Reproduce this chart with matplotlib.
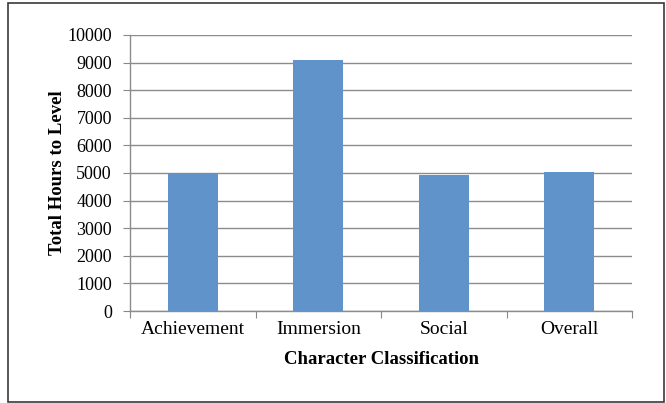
import matplotlib
matplotlib.use("Agg")
import matplotlib.pyplot as plt
from matplotlib.patches import Rectangle
import numpy as np

categories = ["Achievement", "Immersion", "Social", "Overall"]
hours = [4990, 9110, 4930, 5050]
yticks = [0, 1000, 2000, 3000, 4000, 5000, 6000, 7000, 8000, 9000, 10000]

plt.rcParams['font.family'] = ['Liberation Serif', 'DejaVu Serif']

W, H = 666, 403
fig = plt.figure(figsize=(W / 100, H / 100), dpi=100)

# outer frame
fig.patches.append(Rectangle((8 / W, 1 - 402 / H), (664 - 8) / W, (402 - 3) / H,
                             transform=fig.transFigure, fill=False,
                             edgecolor='#3a3a3a', linewidth=1.2))

ax = fig.add_axes([130 / W, 1 - 311 / H, (632 - 130) / W, (311 - 35) / H])
x = np.arange(len(categories))
ax.bar(x, hours, width=0.4, color='#5f93c9', zorder=3)

ax.set_xlim(-0.5, len(categories) - 0.5)
ax.set_ylim(0, 10000)
ax.set_yticks(yticks)
ax.set_yticklabels([str(v) for v in yticks], fontsize=13)
ax.set_xticks(np.arange(-0.5, len(categories), 1.0), minor=False)
ax.set_xticklabels([])
ax.set_xticks(x, minor=True)
ax.set_xticklabels(categories, minor=True, fontsize=14)
ax.tick_params(axis='x', which='minor', length=0, pad=7)
ax.tick_params(axis='x', which='major', length=5, color='#888888', direction='out')
ax.tick_params(axis='y', length=5, color='#888888', direction='out', pad=8)

ax.grid(axis='y', color='#8c8c8c', linewidth=1.0, zorder=0)
for s in ['top', 'right']:
    ax.spines[s].set_visible(False)
for s in ['left', 'bottom']:
    ax.spines[s].set_color('#8c8c8c')
    ax.spines[s].set_linewidth(1.0)

ax.set_ylabel("Total Hours to Level", fontsize=13.5, fontweight='bold')
ax.yaxis.label.set_va('center')
ax.yaxis.label.set_ha('center')
ax.yaxis.set_label_coords(-0.145, 0.5)
ax.set_xlabel("Character Classification", fontsize=13.5, fontweight='bold')
ax.xaxis.label.set_va('center')
ax.xaxis.set_label_coords(0.5, -0.174)

fig.savefig("out.png", dpi=100)
